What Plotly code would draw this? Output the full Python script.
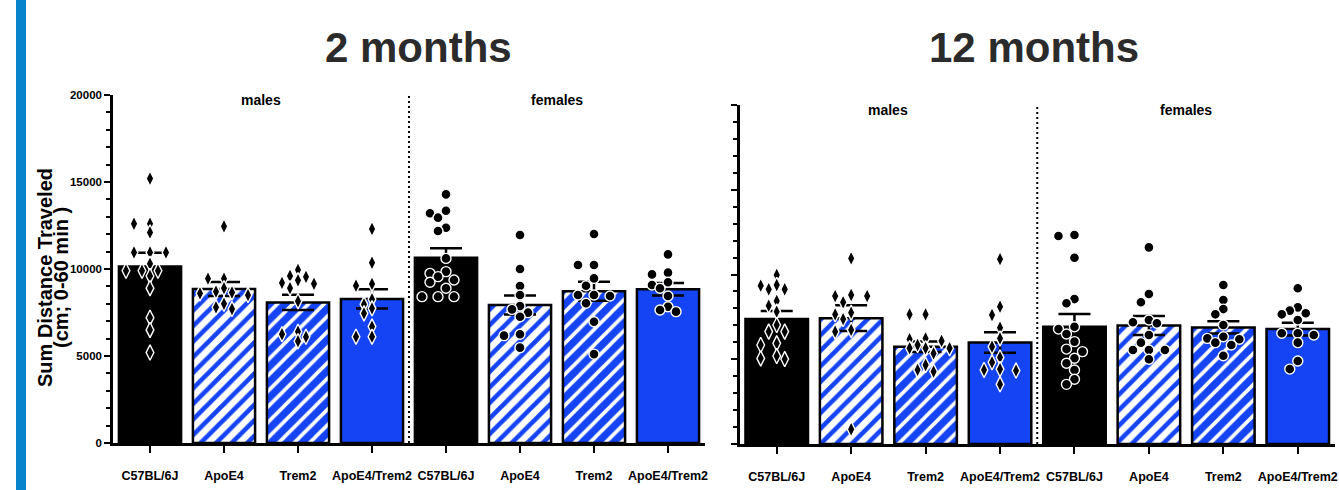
import plotly.graph_objects as go

# ---- data -------------------------------------------------------------
genotypes = ["C57BL/6J", "ApoE4", "Trem2", "ApoE4/Trem2"]
tick_labels = genotypes + genotypes          # males then females
sex_labels = ["males", "females"]
panel_titles = ["2 months", "12 months"]
y_ticks = [0, 5000, 10000, 15000, 20000]
y_tick_text = ["0", "5000", "10000", "15000", "20000"]

# group means and SEM: males (C57, ApoE4, Trem2, ApoE4/Trem2), then females
means_2mo = [10150, 8850, 8080, 8280, 10650, 7930, 8720, 8840]
sems_2mo = [780, 400, 440, 555, 540, 550, 545, 360]
means_12mo = [7380, 7420, 5740, 5990, 6920, 6990, 6880, 6780]
sems_12mo = [470, 760, 310, 610, 750, 560, 365, 375]

# individual animals, 2 months
pts_2mo = [
    [15200, 12600, 12600, 12100, 10950, 10950, 10950, 10300, 9900, 9900, 9900,
     9600, 8900, 7200, 6500, 5200],
    [12450, 9450, 9450, 8900, 8700, 8650, 8600, 8500, 8000, 7800, 7700],
    [9950, 9600, 9550, 9350, 9200, 9150, 8900, 8150, 6400, 6250, 6100, 5850],
    [12300, 10360, 9140, 9040, 8260, 7970, 7740, 7450, 6690, 6110, 6110],
    [14290, 13350, 13200, 12950, 12370, 12180, 10610, 9850, 9750, 9560, 9370,
     9240, 8890, 8410, 8410, 8410],
    [11950, 10000, 9020, 8510, 7870, 7680, 7490, 7260, 6250, 6170, 5480],
    [12010, 10230, 10230, 9460, 9040, 8510, 8510, 8450, 8030, 6970, 5110],
    [10840, 9790, 9690, 9240, 9080, 8890, 8450, 7830, 7640, 7550],
]

# individual animals, 12 months
pts_12mo = [
    [9970, 9380, 9340, 9130, 9130, 8440, 8160, 7810, 7020, 6630, 6630, 5940,
     5840, 5190, 5050, 5010],
    [10950, 8790, 8730, 8730, 8360, 7750, 7650, 7370, 6730, 6630, 870],
    [7650, 7650, 6230, 6180, 6080, 5840, 5650, 5650, 5650, 5350, 4660, 4370,
     4270],
    [10910, 8100, 7610, 6860, 6230, 5740, 5110, 4820, 4420, 4370, 4330, 3520],
    [12330, 12270, 10990, 8550, 8300, 6920, 6780, 6490, 6040, 5600, 5450,
     5060, 4760, 4370, 3820, 3520],
    [11600, 8850, 8360, 7320, 7180, 7120, 6430, 5980, 5550, 5550, 5550, 5000],
    [9380, 8500, 7960, 7650, 7020, 6330, 6230, 6180, 5980, 5840, 5210],
    [9190, 8060, 7870, 7710, 7650, 7320, 6530, 6530, 6430, 5980, 4900, 4420],
]

# ---- styling ----------------------------------------------------------
W, H = 1339, 490
BLUE = "#1444f4"
STRIPE = "#0784cc"
SANS = "Liberation Sans, Arial, sans-serif"

# pixel geometry of the two panels
panels = [
    dict(x0=113, x1=705, ybot=443, ytop=95, xa="x", ya="y"),
    dict(x0=739.5, x1=1335, ybot=444, ytop=105, xa="x2", ya="y2"),
]

bar_styles = [
    dict(color="black"),
    dict(color="white",
         pattern=dict(shape="/", fgcolor=BLUE, bgcolor="white", size=11,
                      solidity=0.42, fgopacity=1, fillmode="overlay")),
    dict(color=BLUE,
         pattern=dict(shape="/", fgcolor="white", bgcolor=BLUE, size=11,
                      solidity=0.33, fgopacity=1, fillmode="overlay")),
    dict(color=BLUE),
]


def swarm_offsets(values, px_per_unit, px_per_cat, step=8.0, min_dist=8.5):
    """Spread overlapping points sideways like a column scatter plot."""
    order = sorted(range(len(values)), key=lambda i: -values[i])
    placed = []
    offs = [0.0] * len(values)
    cands = [0.0]
    for j in range(1, 12):
        cands += [-j * step, j * step]
    for i in order:
        y = values[i] * px_per_unit
        chosen = cands[-1]
        for c in cands:
            if all((c - px) ** 2 + (y - py) ** 2 >= min_dist ** 2
                   for px, py in placed):
                chosen = c
                break
        placed.append((chosen, y))
        offs[i] = chosen / px_per_cat
    return offs


fig = go.Figure()

datasets = [(means_2mo, sems_2mo, pts_2mo), (means_12mo, sems_12mo, pts_12mo)]
for p, (means, sems, pts) in zip(panels, datasets):
    px_per_unit = (p["ybot"] - p["ytop"]) / 20000.0
    px_per_cat = (p["x1"] - p["x0"]) / 8.0
    for g in range(4):
        xs = [g, g + 4]
        fig.add_trace(go.Bar(
            x=xs, y=[means[g], means[g + 4]],
            width=0.84,
            marker=dict(line=dict(color="black", width=2.5), **bar_styles[g]),
            error_y=dict(type="data", array=[sems[g], sems[g + 4]],
                         color="black", thickness=2.5, width=16),
            xaxis=p["xa"], yaxis=p["ya"], showlegend=False, hoverinfo="skip",
        ))
    for k in range(8):
        vals = pts[k]
        offs = swarm_offsets(vals, px_per_unit, px_per_cat)
        male = k < 4
        fig.add_trace(go.Scatter(
            x=[k + o for o in offs], y=vals, mode="markers",
            marker=dict(symbol="diamond-tall" if male else "circle",
                        size=11 if male else 10, color="black",
                        line=dict(color="white", width=1.4)),
            xaxis=p["xa"], yaxis=p["ya"], showlegend=False, hoverinfo="skip",
            cliponaxis=False,
        ))


def xdom(p):
    return [p["x0"] / W, min(p["x1"] / W, 1.0)]


def ydom(p):
    return [(H - p["ybot"]) / H, (H - p["ytop"]) / H]


xaxis_common = dict(
    range=[-0.5, 7.5], tickvals=list(range(8)), ticktext=tick_labels,
    tickangle=0, automargin=False, ticklabeloverflow="allow",
    ticks="outside", ticklen=7, tickwidth=2, tickcolor="black",
    showline=True, linecolor="black", linewidth=2.5, showgrid=False,
    zeroline=False, ticklabelstandoff=12,
    tickfont=dict(family=SANS, size=12.5, color="black", weight="bold"),
)
yaxis_common = dict(
    range=[0, 20000], tickvals=y_ticks, ticktext=y_tick_text,
    automargin=False,
    ticks="outside", ticklen=6, tickwidth=2, tickcolor="black",
    showline=True, linecolor="black", linewidth=2.5, showgrid=False,
    zeroline=False,
    minor=dict(dtick=1000, ticks="outside", ticklen=4, tickwidth=2,
               tickcolor="black", showgrid=False),
    tickfont=dict(family=SANS, size=11.5, color="black", weight="bold"),
)

fig.update_layout(
    width=W, height=H, autosize=False,
    margin=dict(l=0, r=0, t=0, b=0, pad=0),
    paper_bgcolor="white", plot_bgcolor="white",
    barmode="overlay",
    xaxis=dict(domain=xdom(panels[0]), anchor="y", **xaxis_common),
    yaxis=dict(domain=ydom(panels[0]), anchor="x", **yaxis_common),
    xaxis2=dict(domain=xdom(panels[1]), anchor="y2", **xaxis_common),
    yaxis2=dict(domain=ydom(panels[1]), anchor="x2", showticklabels=False,
                **yaxis_common),
)

shapes = [
    dict(type="rect", xref="paper", yref="paper", x0=16 / W, x1=26 / W,
         y0=0, y1=1, fillcolor=STRIPE, line=dict(width=0), layer="below"),
]
annotations = []
for p, title in zip(panels, panel_titles):
    shapes.append(dict(type="line", xref=p["xa"], yref=p["ya"], x0=3.5, x1=3.5,
                       y0=0, y1=20000,
                       line=dict(color="black", width=2, dash="2px,3px")))
    for xi, lab in zip([1.5, 5.5], sex_labels):
        annotations.append(dict(
            x=xi, y=19700, xref=p["xa"], yref=p["ya"], text=lab,
            showarrow=False, xanchor="center", yanchor="middle",
            font=dict(family=SANS, size=14, color="black", weight="bold")))

for xc, title in zip([418, 1034], panel_titles):
    annotations.append(dict(x=xc / W, y=(H - 47) / H, xref="paper",
                            yref="paper", text=title, showarrow=False,
                            xanchor="center", yanchor="middle",
                            font=dict(family=SANS, size=42, color="#2b2b2b",
                                      weight="bold")))
for xc, line in zip([45, 61], ["Sum Distance Traveled", "(cm; 0-60 min )"]):
    annotations.append(dict(x=xc / W, y=(H - 278) / H, xref="paper",
                            yref="paper", text=line, textangle=-90,
                            showarrow=False, xanchor="center",
                            yanchor="middle",
                            font=dict(family=SANS, size=20, color="black",
                                      weight="bold")))

fig.update_layout(shapes=shapes, annotations=annotations)

fig.write_html("out.html")
